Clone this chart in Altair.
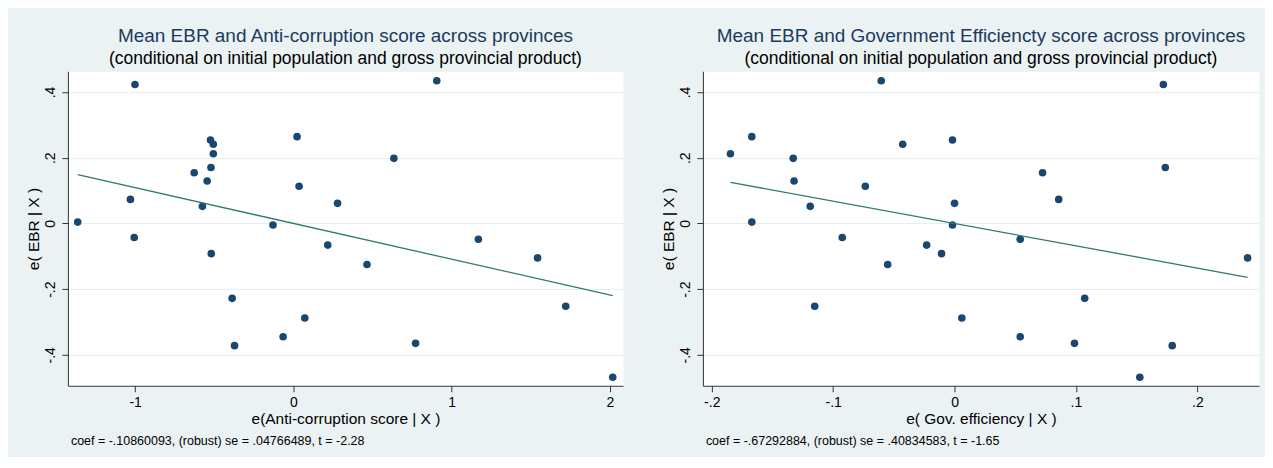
import altair as alt
import pandas as pd

# ---- data ----
left_x = [-1.363, -1.001, 0.906, -0.524, -0.506, -0.506, 0.023, 0.635, -0.627, -0.521,
          -0.545, 0.036, -1.030, -0.575, 0.279, -0.129, -1.006, 1.169, -0.519, 0.217,
          0.465, 1.543, -0.387, 0.072, 1.721, -0.065, -0.372, 0.772, 2.018]
left_y = [0.004, 0.4225, 0.434, 0.254, 0.241, 0.212, 0.264, 0.198, 0.154, 0.170,
          0.129, 0.113, 0.073, 0.052, 0.061, -0.005, -0.043, -0.048, -0.092, -0.066,
          -0.125, -0.105, -0.228, -0.288, -0.252, -0.345, -0.372, -0.365, -0.468]

right_x = [-0.1846, -0.167, -0.0604, 0.172, -0.1329, -0.0427, -0.0017, -0.1322, -0.0735, 0.0725,
           0.1736, -0.1189, 0.0, 0.0858, -0.167, -0.0017, -0.0925, 0.0541, -0.023, -0.0107,
           -0.0551, 0.2414, -0.1152, 0.1072, 0.006, 0.0541, 0.0988, 0.1793, 0.1526]
right_y = [0.212, 0.264, 0.434, 0.4225, 0.198, 0.241, 0.254, 0.129, 0.113, 0.154,
           0.170, 0.052, 0.061, 0.073, 0.004, -0.005, -0.043, -0.048, -0.066, -0.092,
           -0.125, -0.105, -0.252, -0.228, -0.288, -0.345, -0.365, -0.372, -0.468]

y_ticks = [-0.4, -0.2, 0, 0.2, 0.4]
left_x_ticks = [-1, 0, 1, 2]
right_x_ticks = [-0.2, -0.1, 0, 0.1, 0.2]

left_title = "Mean EBR and Anti-corruption score across provinces"
right_title = "Mean EBR and Government Efficiencty score across provinces"
subtitle = "(conditional on initial population and gross provincial product)"
left_xtitle = "e(Anti-corruption score | X )"
right_xtitle = "e( Gov. efficiency | X )"
y_title = "e( EBR | X )"
left_note = "coef = -.10860093, (robust) se = .04766489, t = -2.28"
right_note = "coef = -.67292884, (robust) se = .40834583, t = -1.65"

FONT = "Liberation Sans"
STATA_LABEL = "replace(toString(datum.value), '0.', '.')"


def panel(xs, ys, xdom, xticks, xtitle, title, note, w):
    df = pd.DataFrame({"x": xs, "y": ys})
    base = alt.Chart(df)
    xenc = alt.X("x:Q",
                 scale=alt.Scale(domain=xdom, nice=False, zero=False),
                 axis=alt.Axis(values=xticks, title=xtitle, grid=False,
                               labelExpr=STATA_LABEL))
    yenc = alt.Y("y:Q",
                 scale=alt.Scale(domain=[-0.494, 0.463], nice=False, zero=False),
                 axis=alt.Axis(values=y_ticks, title=y_title, grid=True,
                               labelAngle=-90, labelExpr=STATA_LABEL))
    pts = base.mark_circle(size=58, color="#1a476f", opacity=1).encode(x=xenc, y=yenc)
    line = base.transform_regression("x", "y").mark_line(
        color="#2e7b6e", strokeWidth=1.3).encode(x="x:Q", y="y:Q")
    txt = alt.Chart(pd.DataFrame({"t": [note]})).mark_text(
        align="left", baseline="alphabetic", fontSize=12.5, font=FONT, color="black"
    ).encode(x=alt.value(3), y=alt.value(374), text="t:N")
    return alt.layer(pts, line, txt).properties(
        width=w, height=315,
        title=alt.Title(text=title, subtitle=subtitle, anchor="middle", frame="group",
                        font=FONT, fontSize=19, fontWeight="normal", color="#1c3a5e",
                        subtitleFont=FONT, subtitleFontSize=17.5, subtitleColor="black",
                        subtitlePadding=4, offset=4))


left = panel(left_x, left_y, [-1.425, 2.083], left_x_ticks, left_xtitle, left_title, left_note, 556)
right = panel(right_x, right_y, [-0.2073, 0.2508], right_x_ticks, right_xtitle, right_title, right_note, 557)

chart = alt.hconcat(left, right, spacing=37).properties(
    background="#EAF2F3",
    padding={"left": 18, "top": 18, "right": 5, "bottom": 9},
).configure(font=FONT).configure_view(
    stroke="transparent", fill="white"
).configure_axis(
    domainColor="#333333", tickColor="#333333", tickSize=6, domainWidth=1,
    labelFontSize=14, labelColor="black", labelFont=FONT, labelPadding=4,
    titleFontSize=15.5, titleFontWeight="normal", titleColor="black", titleFont=FONT,
    titlePadding=2, gridColor="#E6EEF1", gridWidth=1,
)

chart.save("out.html", embed_options={"renderer": "svg", "actions": False})
